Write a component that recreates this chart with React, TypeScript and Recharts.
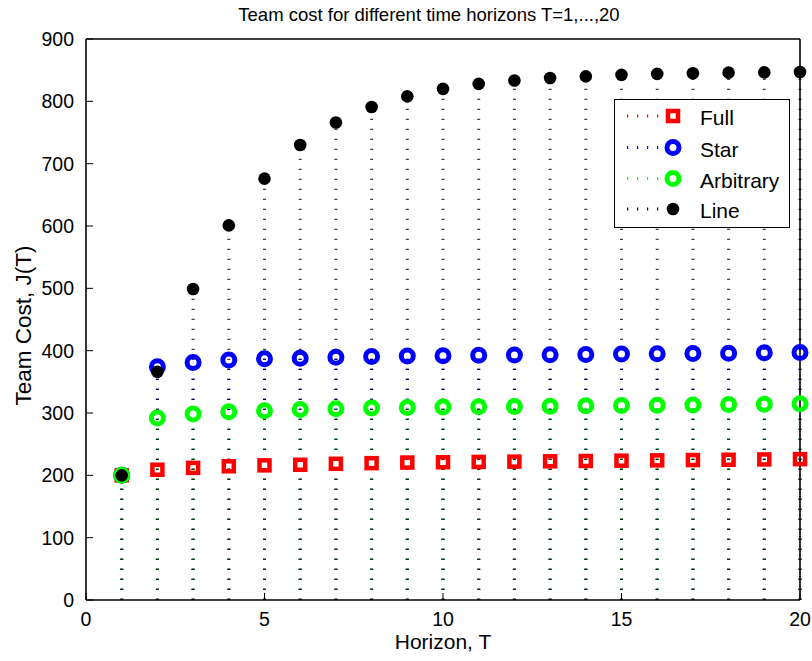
import React from 'react';
import { ScatterChart, Scatter, XAxis, YAxis, ReferenceLine, Legend } from 'recharts';

// horizons T = 1..20
const horizons = [1, 2, 3, 4, 5, 6, 7, 8, 9, 10, 11, 12, 13, 14, 15, 16, 17, 18, 19, 20];

// team cost J(T)
const fullCost = [200, 209, 212, 214.5, 216, 217, 218.5, 219.5, 220.5, 221, 221.5, 222, 222.5, 223, 223.5, 224, 224.5, 225, 225.5, 226];
const starCost = [200, 374, 381, 385, 387, 388, 389.5, 390.5, 391.5, 392, 392.5, 393, 393.5, 394, 394.5, 395, 395.5, 396, 396.5, 397];
const arbitraryCost = [200, 292, 298.5, 302, 303.5, 305.5, 307, 308, 309, 309.5, 310, 310.5, 311, 311.5, 312, 312.5, 313, 313.5, 314, 315];
const lineCost = [200, 366, 499, 601, 676, 730, 766, 791, 808, 820, 828, 833.5, 837.5, 840, 842.5, 844, 845, 846, 846.5, 847];

const xTicks = [0, 5, 10, 15, 20];
const yTicks = [0, 100, 200, 300, 400, 500, 600, 700, 800, 900];
const seriesNames = ['Full', 'Star', 'Arbitrary', 'Line'];

const FONT = '"Liberation Sans", Arial, Helvetica, sans-serif';
const RED = '#ff0000';
const BLUE = '#0000ff';
const GREEN = '#00ff00';
const BLACK = '#000000';

const toPoints = (vals: number[]) => horizons.map((t, i) => ({ t, v: vals[i] }));

const fullData = toPoints(fullCost);
const starData = toPoints(starCost);
const arbitraryData = toPoints(arbitraryCost);
const lineData = toPoints(lineCost);

function Marker({ kind, cx, cy }: { kind: string; cx: number; cy: number }) {
    if (kind === 'Full') {
        return <rect x={cx - 5} y={cy - 5} width={10} height={10} fill="none" stroke={RED} strokeWidth={4.5} />;
    }
    if (kind === 'Star') {
        return <circle cx={cx} cy={cy} r={6} fill="none" stroke={BLUE} strokeWidth={5} />;
    }
    if (kind === 'Arbitrary') {
        return <circle cx={cx} cy={cy} r={6} fill="none" stroke={GREEN} strokeWidth={5} />;
    }
    return <circle cx={cx} cy={cy} r={6.3} fill={BLACK} />;
}

const shapeFor = (kind: string) => (p: any) => <Marker kind={kind} cx={p.cx} cy={p.cy} />;
const noShape = () => <g />;

const stemColors = [RED, BLUE, GREEN];

const axisLine = { stroke: BLACK, strokeWidth: 1.6 };
const tickLine = { stroke: BLACK, strokeWidth: 1 };
const tickFont = { fontSize: 19.5, fontFamily: FONT, fill: BLACK };

const LegendBox = () => {
    const rowY = [17, 48.5, 79.5, 110];
    const colors = [RED, BLUE, GREEN, BLACK];
    return (
        <svg width={176} height={129} style={{ display: 'block', overflow: 'visible' }}>
            <rect x={0.5} y={0.5} width={175} height={128} fill="#ffffff" stroke={BLACK} strokeWidth={1} />
            {seriesNames.map((name, i) => (
                <g key={name}>
                    <line
                        x1={13}
                        x2={46}
                        y1={rowY[i]}
                        y2={rowY[i]}
                        stroke={colors[i]}
                        strokeWidth={3}
                        strokeDasharray="1.2 8.8"
                    />
                    <Marker kind={name} cx={59} cy={rowY[i]} />
                    <text
                        x={86}
                        y={rowY[i] + 1.5}
                        dominantBaseline="central"
                        fontSize={21}
                        fontFamily={FONT}
                        fill={BLACK}
                    >
                        {name}
                    </text>
                </g>
            ))}
        </svg>
    );
};

export default function App() {
    const stemSets = [fullCost, starCost, arbitraryCost];
    return (
        <div style={{ position: 'absolute', left: 0, top: 0, width: 812, height: 661, background: '#fff' }}>
            <ScatterChart width={812} height={661} margin={{ top: 38, right: 11, bottom: 0, left: 0 }}>
                <XAxis
                    xAxisId={0}
                    dataKey="t"
                    type="number"
                    domain={[0, 20]}
                    ticks={xTicks}
                    height={61}
                    tickSize={-7}
                    tickMargin={19}
                    tick={tickFont}
                    axisLine={axisLine}
                    tickLine={tickLine}
                    label={{
                        content: ({ viewBox }: any) => (
                            <text
                                x={viewBox.x + viewBox.width / 2}
                                y={viewBox.y + 49}
                                textAnchor="middle"
                                fontSize={21}
                                fontFamily={FONT}
                                fill={BLACK}
                            >
                                Horizon, T
                            </text>
                        ),
                    }}
                />
                <XAxis
                    xAxisId="top"
                    orientation="top"
                    dataKey="t"
                    type="number"
                    domain={[0, 20]}
                    ticks={xTicks}
                    height={1}
                    tickSize={-7}
                    tick={false}
                    axisLine={axisLine}
                    tickLine={tickLine}
                    label={{
                        content: ({ viewBox }: any) => (
                            <text
                                x={429}
                                y={viewBox.y - 17}
                                textAnchor="middle"
                                fontSize={18.5}
                                fontFamily={FONT}
                                fill={BLACK}
                            >
                                Team cost for different time horizons T=1,...,20
                            </text>
                        ),
                    }}
                />
                <YAxis
                    yAxisId={0}
                    type="number"
                    domain={[0, 900]}
                    ticks={yTicks}
                    width={86}
                    tickSize={-7}
                    tickMargin={19}
                    tick={tickFont}
                    axisLine={axisLine}
                    tickLine={tickLine}
                    label={{
                        content: ({ viewBox }: any) => (
                            <text
                                transform={`translate(31, ${viewBox.y + viewBox.height / 2 + 6}) rotate(-90)`}
                                textAnchor="middle"
                                fontSize={22.5}
                                fontFamily={FONT}
                                fill={BLACK}
                            >
                                Team Cost, J(T)
                            </text>
                        ),
                    }}
                />
                <YAxis
                    yAxisId="right"
                    orientation="right"
                    type="number"
                    domain={[0, 900]}
                    ticks={yTicks}
                    width={1}
                    tickSize={-7}
                    tick={false}
                    axisLine={axisLine}
                    tickLine={tickLine}
                />

                {/* stems: coloured dotted lines, black on top */}
                {stemSets.map((vals, s) =>
                    horizons.map((t, i) => (
                        <ReferenceLine
                            key={`stem-${s}-${t}`}
                            segment={[{ x: t, y: 0 }, { x: t, y: vals[i] }]}
                            stroke={stemColors[s]}
                            strokeWidth={3}
                            strokeDasharray="1.2 8.8"
                            ifOverflow="visible"
                        />
                    ))
                )}
                {horizons.map((t, i) => (
                    <ReferenceLine
                        key={`stem-line-${t}`}
                        segment={[{ x: t, y: 0 }, { x: t, y: lineCost[i] }]}
                        stroke={BLACK}
                        strokeOpacity={0.75}
                        strokeWidth={3}
                        strokeDasharray="1.2 8.8"
                        ifOverflow="visible"
                    />
                ))}

                {/* invisible series so the top / right box axes are drawn */}
                <Scatter
                    name="box"
                    data={lineData}
                    dataKey="v"
                    xAxisId="top"
                    yAxisId="right"
                    shape={noShape}
                    legendType="none"
                    isAnimationActive={false}
                />

                <Scatter name="Full" data={fullData} dataKey="v" shape={shapeFor('Full')} isAnimationActive={false} />
                <Scatter name="Star" data={starData} dataKey="v" shape={shapeFor('Star')} isAnimationActive={false} />
                <Scatter name="Arbitrary" data={arbitraryData} dataKey="v" shape={shapeFor('Arbitrary')} isAnimationActive={false} />
                <Scatter name="Line" data={lineData} dataKey="v" shape={shapeFor('Line')} isAnimationActive={false} />

                <Legend
                    layout="vertical"
                    align="center"
                    verticalAlign="middle"
                    content={() => <LegendBox />}
                    wrapperStyle={{ left: 614, top: 99, width: 176, height: 129 }}
                />
            </ScatterChart>
        </div>
    );
}
